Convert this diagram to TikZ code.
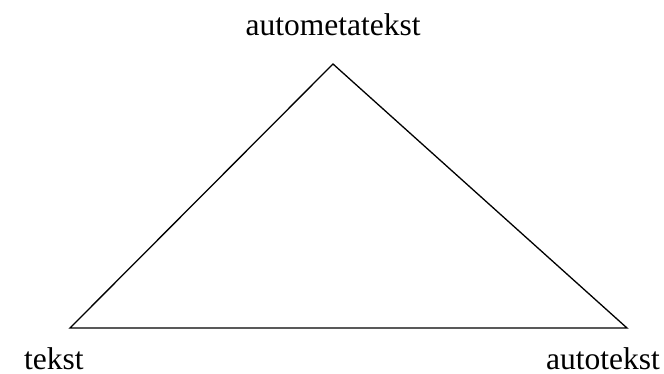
\documentclass[tikz,border=0pt]{standalone}
\usepackage{fontspec}
\setmainfont{Liberation Serif}
\begin{document}
\begin{tikzpicture}[x=1pt,y=-1pt,
  lbl/.style={inner sep=0pt,font=\fontsize{31.5}{36}\selectfont}]
\useasboundingbox (0,0) rectangle (664,374);
\coordinate (top) at (333,64);
\coordinate (bl) at (70,328);
\coordinate (br) at (627,328);
\draw[line width=1.3pt,line join=miter] (top) -- (br) -- (bl) -- cycle;
\node[lbl,anchor=base] (t1) at (333,36) {autometatekst};
\node[lbl,anchor=base west] (t2) at (24,369) {tekst};
\node[lbl,anchor=base west] (t3) at (546,369) {autotekst};
\end{tikzpicture}
\end{document}
